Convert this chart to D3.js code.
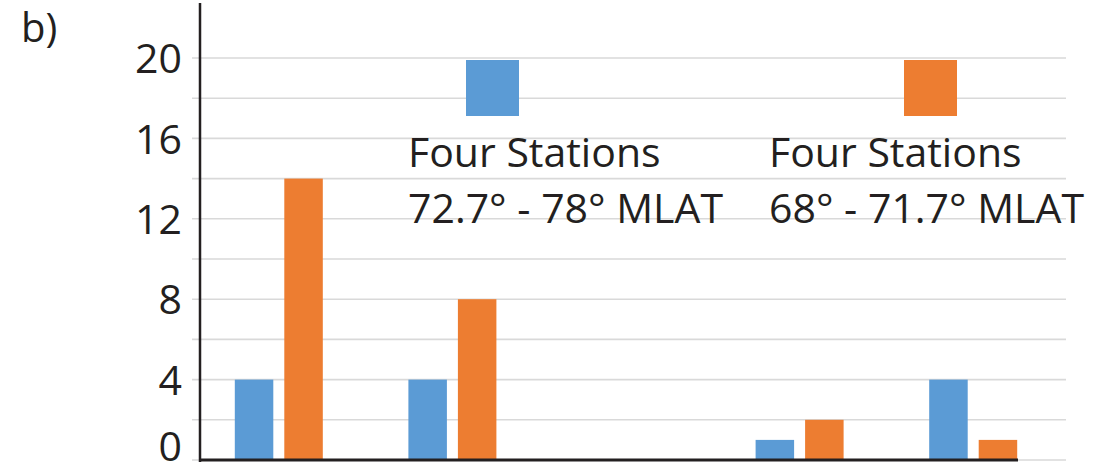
<!DOCTYPE html>
<html>
<head>
<meta charset="utf-8">
<script src="https://cdn.jsdelivr.net/npm/d3@7"></script>
<style>
  html, body { margin: 0; padding: 0; background: #fff; }
  svg { display: block; font-family: "Open Sans", "Noto Sans", sans-serif; }
</style>
</head>
<body>
<svg id="chart" width="1103" height="472"></svg>
<script>
// Event groups along the x axis (unlabelled on the chart)
const categories = ["g1", "g2", "g3", "g4", "g5"];
// Counts for the higher-latitude stations (72.7° - 78° MLAT)
const highLat = [4, 4, 0, 1, 4];
// Counts for the lower-latitude stations (68° - 71.7° MLAT)
const lowLat = [14, 8, 0, 2, 1];
const yTicks = [0, 4, 8, 12, 16, 20];
const gridValues = [0, 2, 4, 6, 8, 10, 12, 14, 16, 18, 20];
const seriesNames = ["Four Stations\n72.7° - 78° MLAT", "Four Stations\n68° - 71.7° MLAT"];

const ink = "#231f20";
const colors = ["#5b9bd5", "#ed7d31"];

const svg = d3.select("#chart");

const x = d3.scaleBand().domain(categories).range([192, 1060]).paddingInner(0).paddingOuter(0);
const y = d3.scaleLinear().domain([0, 20]).range([460, 58]);

const barW = 38.5, barGap = 11;

// Horizontal grid lines every 2 units
svg.append("g").selectAll("line").data(gridValues).join("line")
  .attr("x1", 192).attr("x2", 1066)
  .attr("y1", d => y(d)).attr("y2", d => y(d))
  .attr("stroke", "#d9d9d9").attr("stroke-width", 1.6);

// Bars
const series = [highLat, lowLat];
series.forEach((vals, si) => {
  svg.append("g").selectAll("rect").data(categories).join("rect")
    .attr("x", (c) => x(c) + x.bandwidth() / 2 - (barW + barGap / 2) + si * (barW + barGap))
    .attr("width", barW)
    .attr("y", (c, i) => y(vals[i]))
    .attr("height", (c, i) => y(0) - y(vals[i]))
    .attr("fill", colors[si]);
});

// Y axis
const yAxis = d3.axisLeft(y).tickValues(yTicks).tickSize(0).tickPadding(18);
const ya = svg.append("g").attr("transform", "translate(200,0)").call(yAxis);
ya.select(".domain").remove();
ya.selectAll("text")
  .attr("font-family", "'Open Sans', 'Noto Sans', sans-serif")
  .attr("font-size", 41)
  .attr("fill", ink)
  .attr("dy", d => d === 0 ? "0.02em" : "0.36em");

svg.append("line")
  .attr("x1", 200).attr("x2", 200).attr("y1", 3).attr("y2", y(0) + 2)
  .attr("stroke", ink).attr("stroke-width", 2.5);

// Baseline
svg.append("line")
  .attr("x1", 199).attr("x2", 1018).attr("y1", y(0)).attr("y2", y(0))
  .attr("stroke", ink).attr("stroke-width", 3);

// Legend: colour swatch above a two-line label
const legend = [
  { sx: 466, tx: 408 },
  { sx: 904, tx: 769 }
];
legend.forEach((p, i) => {
  svg.append("rect")
    .attr("x", p.sx).attr("y", 60).attr("width", 53).attr("height", 56)
    .attr("fill", colors[i]);
  const t = svg.append("text")
    .attr("x", p.tx).attr("y", 167)
    .attr("font-size", 41).attr("fill", ink);
  seriesNames[i].split("\n").forEach((line, li) => {
    t.append("tspan").attr("x", p.tx).attr("y", 167 + li * 56).text(line);
  });
});

// Panel label
svg.append("text")
  .attr("x", 21).attr("y", 42)
  .attr("font-size", 40).attr("fill", ink)
  .text("b)");
</script>
</body>
</html>
